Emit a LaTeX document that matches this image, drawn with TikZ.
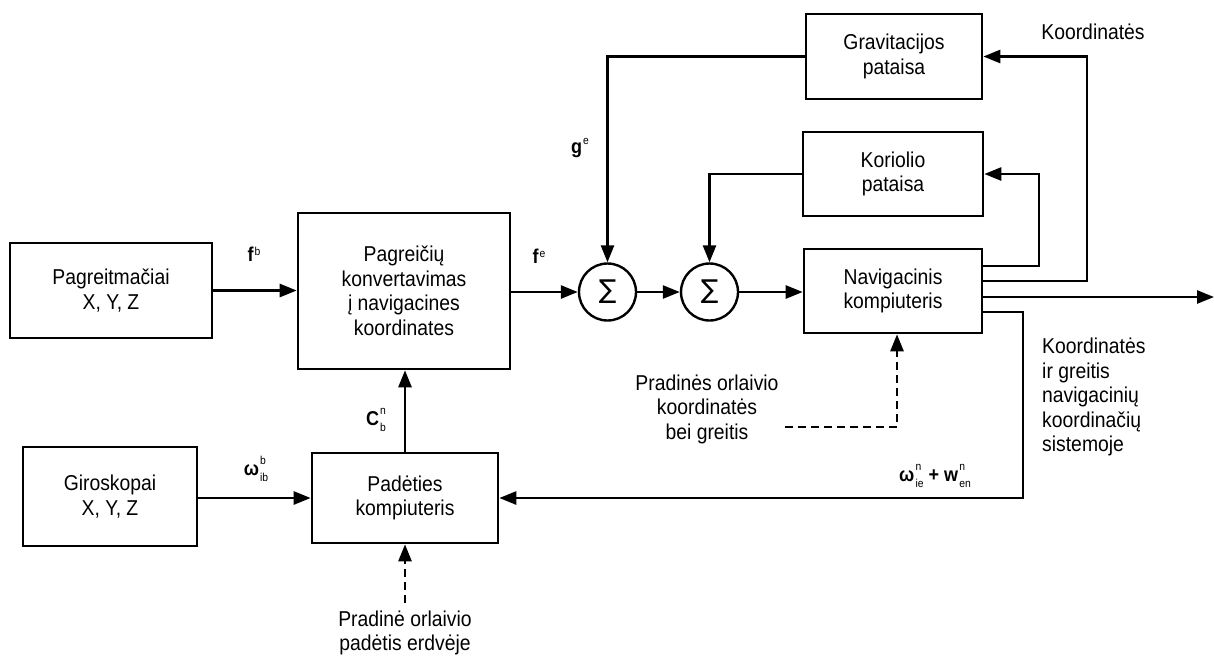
\documentclass[tikz,border=0pt]{standalone}
\usepackage{fontspec}
\setmainfont{Liberation Sans}[FakeStretch=0.9]
\newfontfamily\dejavu{DejaVu Sans}
\usetikzlibrary{arrows.meta}
\newcommand\sscr{\fontsize{11.5}{11.5}\selectfont\mdseries}
% base, sup, sub, sup raise, sub raise
\newcommand\mysupsub[5]{#1\kern1.2pt\rlap{\raisebox{#4}{\sscr #2}}\raisebox{#5}{\sscr #3}}
\newcommand\mysup[3]{#1\kern0.8pt\raisebox{#3}{\sscr #2}}
\tikzset{
  box/.style={draw, line width=2.6pt, rectangle, align=center, inner sep=0pt},
  sumnode/.style={draw, line width=2.4pt, circle, minimum size=57pt, inner sep=0pt, font=\dejavu\fontsize{26}{26}\selectfont},
  arr/.style={line width=2.6pt, -{Triangle[length=17pt,width=13pt]}},
  darr/.style={line width=2.6pt, dash pattern=on 8pt off 5pt, -{Triangle[length=17pt,width=13pt]}},
  lbl/.style={inner sep=0pt, font=\fontsize{20}{20}\selectfont\bfseries},
  txt/.style={inner sep=0pt, align=center}
}
\begin{document}
\begin{tikzpicture}[x=1pt,y=-1pt, font=\fontsize{21.5}{24.5}\selectfont]
\useasboundingbox (0,0) rectangle (1214,657);
% boxes
\node[box, minimum width=202pt, minimum height=95pt] (acc) at (111,290.5) {Pagreitmačiai\\X, Y, Z};
\node[box, minimum width=212pt, minimum height=156pt] (conv) at (404,291) {Pagreičių\\konvertavimas\\į navigacines\\koordinates};
\node[box, minimum width=174pt, minimum height=99pt] (gyro) at (110,496.5) {Giroskopai\\X, Y, Z};
\node[box, minimum width=186pt, minimum height=90pt] (att) at (405,498) {Padėties\\kompiuteris};
\node[box, minimum width=178pt, minimum height=84pt] (nav) at (893,291) {Navigacinis\\kompiuteris};
\node[box, minimum width=176pt, minimum height=85pt] (grav) at (894,56.5) {Gravitacijos\\pataisa};
\node[box, minimum width=180pt, minimum height=84pt] (cor) at (893,174) {Koriolio\\pataisa};
\node[sumnode] (s1) at (607.5,292) {∑};
\node[sumnode] (s2) at (709.5,292) {∑};
% coordinates
\coordinate (k1) at (1039,266);
\coordinate (k2) at (1087,281);
\coordinate (out) at (1214,297);
\coordinate (k3) at (1023,312);
\coordinate (k4) at (1023,498);
\coordinate (d1) at (405,603);
\coordinate (d2) at (785,427);
\coordinate (d3) at (897,427);
% connectors
\draw[arr] (acc.east) -- (acc.east -| conv.west);
\draw[arr] (conv.east |- s1.west) -- (s1.west);
\draw[arr] (s1.east) -- (s2.west);
\draw[arr] (s2.east) -- (s2.east -| nav.west);
\draw[arr] (grav.west) -| (s1.north);
\draw[arr] (cor.west) -| (s2.north);
\draw[arr] (nav.east |- k1) -- (k1) |- (cor.east);
\draw[arr] (nav.east |- k2) -- (k2) |- (grav.east);
\draw[arr] (nav.east |- out) -- (out);
\draw[arr] (nav.east |- k3) -- (k3) -- (k4) -- (att.east);
\draw[arr] (gyro.east |- att.west) -- (att.west);
\draw[arr] (att.north) -- (att.north |- conv.south);
\draw[darr] (d1) -- (att.south);
\draw[darr] (d2) -- (d3) -- (d3 |- nav.south);
% labels
\node[lbl] (lfb) at (254,254) {\mysup{f}{b}{6pt}};
\node[lbl] (lfe) at (539,256) {\mysup{f}{e}{6pt}};
\node[lbl] (lge) at (580,148) {\mysup{g}{e}{8.5pt}};
\node[lbl] (lcb) at (376,420) {\mysupsub{C}{n}{b}{11pt}{-6pt}};
\node[lbl] (lw) at (256,469) {\mysupsub{ω}{b}{ib}{11pt}{-6pt}};
\node[lbl] (lwie) at (935,476) {\mysupsub{ω}{n}{ie}{11pt}{-6pt} + \mysupsub{w}{n}{en}{11pt}{-6pt}};
\node[txt] (tk) at (1093,32) {Koordinatės};
\node[txt, align=left, anchor=north west] (tkr) at (1042,338) {Koordinatės\\ir greitis\\navigacinių\\koordinačių\\sistemoje};
\node[txt] (tpr) at (707,409) {Pradinės orlaivio\\koordinatės\\bei greitis};
\node[txt] (tpa) at (405,633) {Pradinė orlaivio\\padėtis erdvėje};
\end{tikzpicture}
\end{document}
